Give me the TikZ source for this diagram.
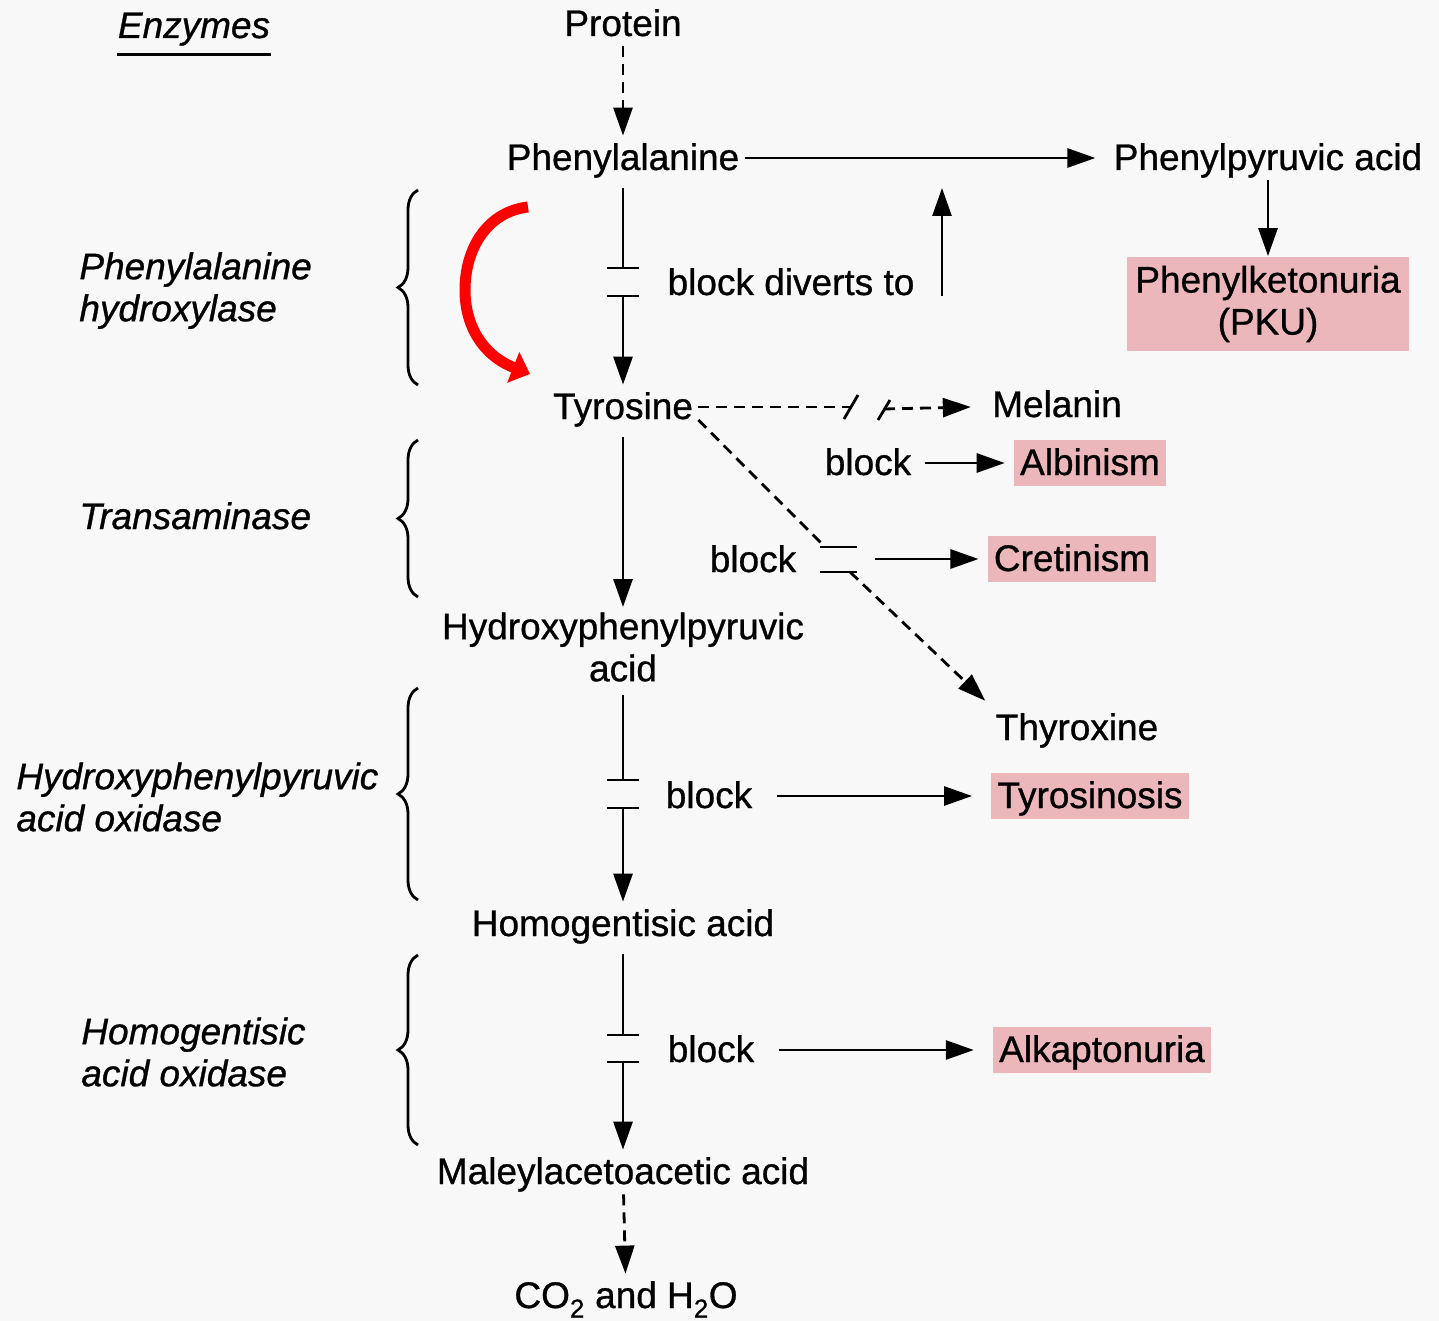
\documentclass[tikz,border=0pt]{standalone}
\usepackage{fontspec}
\setmainfont[FakeBold=0.8]{Liberation Sans}
\usetikzlibrary{arrows.meta,decorations.pathreplacing}
\definecolor{pinkbox}{RGB}{236,183,187}
\definecolor{bgray}{RGB}{248,248,248}

\begin{document}
\begin{tikzpicture}[x=1pt, y=-1pt, line width=2.8pt,
    >={Triangle[length=28pt,width=19pt]},
    lbl/.style={font=\fontsize{37}{42}\selectfont, text height=29pt, text depth=5pt, inner sep=4pt},
    lbltwo/.style={font=\fontsize{37}{42}\selectfont, align=center, inner sep=4pt},
    enzlbl/.style={font=\fontsize{37}{42}\selectfont\itshape, align=left, inner sep=0pt, anchor=north west},
    dis/.style={lbl, fill=pinkbox, inner xsep=6pt, inner ysep=6pt},
    dsh/.style={dash pattern=on 11pt off 7pt},
    fromtxt/.style={shorten <=8pt},
    enzbrace/.style={decorate, decoration={brace, amplitude=20pt}}]
    % Fondo
    \fill[bgray] (0,0) rectangle (1439,1321);
    \useasboundingbox (0,0) rectangle (1439,1321);
    % Enzimi
    \node[lbl, font=\fontsize{37}{42}\selectfont\itshape, inner xsep=0pt] (enz) at (194,26) {Enzymes};
    \draw ([yshift=-6pt]enz.south west) -- ([yshift=-6pt]enz.south east);
    \node[enzlbl] (pah) at (78,251) {Phenylalanine\\hydroxylase};
    \node[lbl, font=\fontsize{37}{42}\selectfont\itshape, anchor=west, inner xsep=0pt] (tra) at (78,517) {Transaminase};
    \node[enzlbl] (hpo) at (15,761) {Hydroxyphenylpyruvic\\acid oxidase};
    \node[enzlbl] (hgo) at (80,1016) {Homogentisic\\acid oxidase};
    \draw[enzbrace] (418,385) -- (418,190);
    \draw[enzbrace] (418,597) -- (418,440);
    \draw[enzbrace] (418,900) -- (418,688);
    \draw[enzbrace] (418,1145) -- (418,955);
    % Metaboliti
    \node[lbl] (prot) at (623,24) {Protein};
    \node[lbl] (phe) at (623,158) {Phenylalanine};
    \node[lbl] (tyr) at (623,407) {Tyrosine};
    \node[lbltwo] (hpp) at (623,647) {Hydroxyphenylpyruvic\\acid};
    \node[lbl] (hga) at (623,924) {Homogentisic acid};
    \node[lbl] (maa) at (623,1172) {Maleylacetoacetic acid};
    \node[lbl] (co2) at (626,1296) {CO\textsubscript{2} and H\textsubscript{2}O};
    \node[lbl] (ppa) at (1268,158) {Phenylpyruvic acid};
    \node[lbl] (mel) at (1057,405) {Melanin};
    \node[lbl] (thy) at (1077,728) {Thyroxine};
    % Malattie
    \node[lbltwo, fill=pinkbox, minimum width=282pt, minimum height=93pt] (pku) at (1268,304) {Phenylketonuria\\(PKU)};
    \node[dis] (alb) at (1090,463) {Albinism};
    \node[dis] (cre) at (1072,559) {Cretinism};
    \node[dis] (tys) at (1090,796) {Tyrosinosis};
    \node[dis] (alk) at (1102,1050) {Alkaptonuria};
    % Blocchi
    \node[lbl] (bd) at (791,283) {block diverts to};
    \node[lbl] (bk1) at (868,463) {block};
    \node[lbl] (bk2) at (753,560) {block};
    \node[lbl] (bk3) at (709,796) {block};
    \node[lbl] (bk4) at (711,1050) {block};
    \coordinate (b1) at (623,268);
    \coordinate (b2) at (623,296);
    \coordinate (b3) at (623,780);
    \coordinate (b4) at (623,808);
    \coordinate (b5) at (623,1035);
    \coordinate (b6) at (623,1062);
    \foreach \b in {b1,b2,b3,b4,b5,b6}
        \draw ([xshift=-16pt]\b) -- ([xshift=16pt]\b);
    \coordinate (c1) at (825,547);
    \coordinate (c2) at (850,572);
    \coordinate (c3) at (875,559);
    \draw (820,547) -- (857,547);
    \draw (820,572) -- (857,572);
    \coordinate (m1) at (851,407);
    \coordinate (m2) at (884,409);
    \coordinate (u1) at (942,296);
    \coordinate (u2) at (942,188);
    % Frecce
    \draw[->, dsh] (prot) -- (phe);
    \draw[fromtxt] (phe) -- (b1);
    \draw[->] (b2) -- (tyr);
    \draw[->, fromtxt] (tyr) -- (hpp);
    \draw[fromtxt] (hpp) -- (b3);
    \draw[->] (b4) -- (hga);
    \draw[fromtxt] (hga) -- (b5);
    \draw[->] (b6) -- (maa);
    \draw[->, dsh] (maa) -- (co2);
    \draw[->, shorten >=13pt] (phe) -- (ppa);
    \draw[->] (ppa) -- (pku);
    \draw[->] (u1) -- (u2);
    \draw[dsh] (tyr) -- (m1);
    \draw ([shift={(-7,12)}]m1) -- ([shift={(7,-12)}]m1);
    \draw ([shift={(-6,11)}]m2) -- ([shift={(6,-9)}]m2);
    \draw[->, dsh, shorten >=16pt] (m2) -- (mel);
    \draw[->, shorten <=8pt, shorten >=8pt] (bk1) -- (alb);
    \draw[dsh] ([yshift=-13pt]tyr.east) -- (c1);
    \draw[->, dsh, shorten >=7pt] (c2) -- (thy.north west);
    \draw[->, shorten >=8pt] (c3) -- (cre);
    \draw[->, shorten <=19pt, shorten >=18pt] (bk3) -- (tys);
    \draw[->, shorten <=19pt, shorten >=18pt] (bk4) -- (alk);
    % Freccia rossa
    \draw[red, line width=11pt, -{Triangle[length=18pt,width=32pt]}] (528,207) .. controls (486,212) and (465,250) .. (465,290) .. controls (465,325) and (482,355) .. (530,374);
\end{tikzpicture}
\end{document}
